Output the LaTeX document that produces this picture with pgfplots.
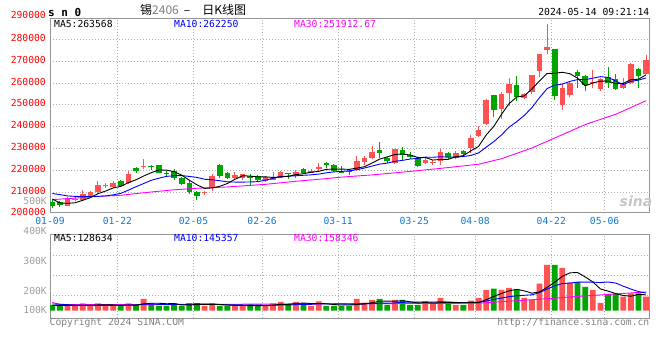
\documentclass[border=0pt]{standalone}
\usepackage{pgfplots}
\pgfplotsset{compat=1.18}
\usepackage{pgfplotstable}
\usepackage{fontspec}
\newfontfamily\mono{DejaVu Sans Mono}
\newfontfamily\cjk{Noto Sans CJK SC}
\newfontfamily\dvs{DejaVu Sans}
\definecolor{cred}{RGB}{255,82,82}
\definecolor{cgreen}{RGB}{0,165,0}
\definecolor{mablue}{RGB}{0,0,255}
\definecolor{mamag}{RGB}{255,0,255}
\definecolor{gridc}{RGB}{175,175,175}
\definecolor{framec}{RGB}{150,150,150}
\definecolor{datec}{RGB}{20,120,210}
\definecolor{txtgray}{RGB}{130,130,130}
\definecolor{volgray}{RGB}{160,160,160}
\newcommand\tf{\mono\fontsize{9.7bp}{11bp}\selectfont}

\pgfplotstableread{
i o h l c
2 203950 208000 203950 207300
3 206500 207800 206000 207000
4 206500 211000 206000 209500
5 208000 210800 207500 210000
6 210000 215100 209500 213300
7 213000 214500 211900 213300
8 212700 215100 211800 214200
10 214500 219700 214000 218500
12 221500 225100 220500 221800
20 209800 210600 208800 210200
21 212100 218200 210800 217400
24 216700 219400 215900 218100
25 216400 218600 215800 218200
28 215100 217400 214800 217000
29 215800 219400 215800 216700
30 216700 219900 216400 219400
32 217300 220300 216700 219400
34 219100 220600 218800 220000
35 220600 223300 219700 221500
40 220300 226600 219700 224350
41 224000 226600 222500 225850
42 225850 231100 225100 228400
45 223600 229900 223000 229750
49 223600 225850 222850 224650
50 223600 224800 222550 223900
51 224500 229750 222700 228400
53 225550 229000 225100 228100
55 230250 236400 228000 234850
56 235600 240200 235200 238400
57 241450 252900 241000 252450
59 248300 256100 243600 254750
60 255350 262500 249400 259350
62 253350 255500 252500 255200
63 255800 263600 255000 263450
64 265450 273100 262700 273100
65 275100 286900 273100 276450
67 249850 260100 247850 257500
68 254300 260850 253800 260100
71 260100 265750 257500 260400
72 257050 262400 256500 261950
75 257500 262100 257050 259650
76 260100 269100 259700 268800
78 264250 272650 263950 270350
}\redK

\pgfplotstableread{
i o h l c
0 205450 206500 202700 203950
1 205450 206200 203300 204250
9 215100 215700 212400 213000
11 221200 221800 219000 220000
13 222100 222700 220300 221800
14 222400 222700 218800 219100
15 218700 219700 217600 218300
16 220000 220600 215900 216400
17 216400 217100 213600 213900
18 214500 215000 209500 210300
19 210000 210600 206500 208500
22 222400 222900 216700 217600
23 218800 219400 216100 216700
26 217700 218200 213600 216800
27 217300 217900 214800 215500
31 218800 219100 216100 218200
33 220900 221200 218500 219100
36 223600 223900 221200 222700
37 222400 223000 219400 220000
38 219800 222100 218800 219100
39 219700 220900 218000 219400
43 229300 232900 225850 228100
44 225850 226300 223600 224500
46 229300 230800 224800 227050
47 226900 228400 225400 226150
48 225550 226000 221800 222250
52 227800 228250 225100 226300
54 228850 229300 226600 227500
58 254300 254450 244350 247850
61 258900 263000 252000 253500
66 275400 275600 252150 254000
69 265150 265900 257800 263000
70 263000 263600 256250 259000
73 262700 267300 257500 260100
74 261650 263950 256600 257050
77 266200 267000 257500 263000
}\greenK

\pgfplotstableread{
i ma5 ma10
0 207000 209500
1 205200 209000
2 205000 208400
3 205300 208200
4 206400 208100
5 207610 208100
6 209420 208200
7 210620 208400
8 212060 208900
9 212760 209580
10 214460 211035
11 215800 212610
12 217500 214060
13 219020 215540
14 220240 216500
15 220200 217330
16 219480 217640
17 217900 217700
18 215600 217310
19 213480 216860
20 211860 216030
21 212060 215770
22 212800 215350
23 214080 214840
24 216000 214740
25 217600 214730
26 217480 214770
27 217060 214930
28 217120 215600
29 216840 216420
30 217080 217340
31 217360 217420
32 218140 217600
33 218560 217840
34 219220 218030
35 219640 218360
36 220540 218950
37 220660 219400
38 220660 219610
39 220540 219880
40 221110 220375
41 221740 221140
42 223420 222040
43 225220 222940
44 226240 223390
45 227320 224215
46 227560 224650
47 227110 225265
48 225940 225580
49 225970 226105
50 224800 226060
51 225070 226315
52 225100 226105
53 226270 226105
54 226840 226405
55 229030 226915
56 231030 228050
57 236260 230680
58 240210 233240
59 245660 236250
60 250560 239795
61 253580 242305
62 254130 245195
63 257250 248730
64 260920 253290
65 264340 257450
66 264440 259010
67 264900 259515
68 264230 260740
69 262210 261565
70 258720 261530
71 260000 262220
72 260890 262895
73 260890 262560
74 259700 260955
75 259830 259275
76 261510 260755
77 261720 261305
78 263760 262325
}\maPrice

\pgfplotstableread{
i ma30
0 206700
3 207400
6 208200
9 208700
13 210200
16 211200
19 211900
23 212500
28 213700
32 215100
36 216300
38 217000
42 218000
47 219600
51 221000
55 222500
56 222900
59 225400
63 230300
67 236400
70 241000
74 245700
78 251900
}\maThirty

\pgfplotstableread{
i v
2 38
3 38
4 58
5 38
6 58
7 38
8 38
10 58
12 94
20 38
21 58
24 38
25 38
28 38
29 58
30 70
32 70
34 38
35 74
40 94
41 64
42 86
45 86
49 64
50 64
51 102
53 46
55 80
56 102
57 166
59 166
60 182
62 102
63 86
64 216
65 366
67 342
68 224
71 166
72 62
75 112
76 138
78 112
}\volRed

\pgfplotstableread{
i v
0 46
1 38
9 38
11 50
13 58
14 38
15 38
16 58
17 38
18 58
19 58
22 38
23 38
26 50
27 38
31 50
33 58
36 38
37 38
38 38
39 38
43 94
44 46
46 86
47 46
48 46
52 58
54 46
58 176
61 166
66 366
69 230
70 190
73 134
74 134
77 138
}\volGreen

\pgfplotstableread{
i ma5 ma10
0 44 54
1 42 52
2 42 48
3 42 44
4 43.6 42
5 42 42
6 46 42
7 46 42
8 46 42
9 42 42.8
10 46 44
11 44.4 45.2
12 55.6 50.8
13 59.6 52.8
14 59.6 50.8
15 55.6 50.8
16 57.2 50.8
17 46 50.8
18 46 52.8
19 50 54.8
20 50 52.8
21 50 53.6
22 50 48
23 46 46
24 42 46
25 42 46
26 40.4 45.2
27 40.4 45.2
28 40.4 43.2
29 44.4 43.2
30 50.8 46.4
31 50.8 45.6
32 57.2 48.8
33 61.2 50.8
34 57.2 50.8
35 58 54.4
36 55.6 53.2
37 49.2 53.2
38 45.2 53.2
39 45.2 51.2
40 49.2 53.6
41 54.4 55
42 64 56.6
43 75.2 60.2
44 76.8 61
45 75.2 62.2
46 79.6 67
47 71.6 67.8
48 62 68.6
49 65.6 71.2
50 61.2 68.2
51 64.4 72
52 66.8 69.2
53 66.8 64.4
54 63.2 64.4
55 66.4 63.8
56 66.4 65.4
57 88 77.4
58 114 90.4
59 138 100.6
60 158.4 112.4
61 171.2 118.8
62 158.4 123.2
63 140.4 127.2
64 150.4 144.2
65 187.2 172.8
66 227.2 199.2
67 275.2 216.8
68 302.8 221.6
69 305.6 228
70 270.4 228.8
71 230.4 228.8
72 174.4 224.8
73 156.4 229.6
74 137.2 221.4
75 121.6 196
76 116 173.2
77 131.2 152.8
78 126.8 141.6
}\volMA

\pgfplotstableread{
i ma30
0 66
1 50
12 48
25 52
37 56
50 58
56 60
58 68
61 80
64 92
66 100
68 110
70 118
72 126
74 134
76 142
78 150
}\volThirty

\pgfplotsset{
  chartbase/.style={
    scale only axis, anchor=south west, width=599.5bp,
    xmin=-0.3, xmax=78.45,
    xtick={-0.3,8.55,18.55,27.55,37.55,47.55,55.55,65.55,72.55},
    major tick length=0pt,
    scaled ticks=false,
    grid=major,
    grid style={gridc, dash pattern=on 1bp off 2bp, line width=0.8bp},
    axis line style={framec, line width=1bp},
  },
}

\begin{document}
\begin{tikzpicture}
\useasboundingbox (0,0) rectangle (660bp,360bp);
\fill[white] (0,0) rectangle (660bp,360bp);

% ---------------- price panel ----------------
\begin{axis}[chartbase,
  at={(50bp,147bp)}, height=194bp,
  ymin=200600, ymax=289250,
  xticklabels={01-09,01-22,02-05,02-26,03-11,03-25,04-08,04-22,05-06},
  ytick={210000,220000,230000,240000,250000,260000,270000,280000},
  yticklabels={210000,220000,230000,240000,250000,260000,270000,280000},
  xticklabel style={font=\tf, text=datec, inner sep=0pt, anchor=north, yshift=-4.5bp},
  yticklabel style={font=\tf, text=red, inner sep=0pt, anchor=east, xshift=-4bp, yshift=1.5bp},
]
% wicks
\addplot[draw=none, mark=none, forget plot,
  error bars/.cd, y dir=plus, y explicit, error mark=none,
  error bar style={draw=cred, line width=1bp}]
  table[x=i, y=l, y error expr=\thisrow{h}-\thisrow{l}] {\redK};
\addplot[draw=none, mark=none, forget plot,
  error bars/.cd, y dir=plus, y explicit, error mark=none,
  error bar style={draw=cgreen, line width=1bp}]
  table[x=i, y=l, y error expr=\thisrow{h}-\thisrow{l}] {\greenK};
% bodies
\addplot[draw=none, mark=none, forget plot,
  error bars/.cd, y dir=plus, y explicit, error mark=none,
  error bar style={draw=cred, line width=5.6bp}]
  table[x=i, y=o, y error expr={max(\thisrow{c}-\thisrow{o},400)}] {\redK};
\addplot[draw=none, mark=none, forget plot,
  error bars/.cd, y dir=plus, y explicit, error mark=none,
  error bar style={draw=cgreen, line width=5.6bp}]
  table[x=i, y=c, y error expr={max(\thisrow{o}-\thisrow{c},400)}] {\greenK};
% moving averages
\addplot[mamag, line width=0.9bp, mark=none] table[x=i, y=ma30] {\maThirty};
\addplot[mablue, line width=0.9bp, mark=none] table[x=i, y=ma10] {\maPrice};
\addplot[black, line width=0.9bp, mark=none] table[x=i, y=ma5] {\maPrice};
\end{axis}

% ---------------- volume panel ----------------
\begin{axis}[chartbase,
  at={(50bp,41.7bp)}, height=84bp,
  ymin=-60.8, ymax=611.2,
  xticklabels={}, ytick={120,283,446}, yticklabels={},
]
\addplot[ybar, bar width=5.8bp, bar shift=0pt, fill=cred, draw=none] table[x=i, y=v] {\volRed};
\addplot[ybar, bar width=5.8bp, bar shift=0pt, fill=cgreen, draw=none] table[x=i, y=v] {\volGreen};
\addplot[mamag, line width=0.9bp, mark=none] table[x=i, y=ma30] {\volThirty};
\addplot[mablue, line width=0.9bp, mark=none] table[x=i, y=ma10] {\volMA};
\addplot[black, line width=0.9bp, mark=none] table[x=i, y=ma5] {\volMA};
\end{axis}

% ---------------- texts ----------------
\node[anchor=west, inner sep=0pt] at (48bp,348bp) {\mono\bfseries\fontsize{11bp}{13bp}\selectfont s n 0};
\node[anchor=west, inner sep=0pt] at (140bp,350bp) {\cjk\fontsize{12bp}{14bp}\selectfont 锡{\color{gray}2406}\hspace{5bp}–\hspace{12bp}日K线图};
\node[anchor=east, inner sep=0pt] at (649.5bp,348.5bp) {\tf 2024-05-14 09:21:14};

\node[anchor=west, inner sep=0pt] at (54bp,336bp) {\tf MA5:263568};
\node[anchor=west, inner sep=0pt, text=mablue] at (174bp,336bp) {\tf MA10:262250};
\node[anchor=west, inner sep=0pt, text=mamag] at (294bp,336bp) {\tf MA30:251912.67};

\node[anchor=east, inner sep=0pt, text=red] at (46bp,345bp) {\tf 290000};
\node[anchor=east, inner sep=0pt, text=red] at (46bp,148.5bp) {\tf 200000};

\node[anchor=east, inner sep=0pt, text=volgray] at (47bp,159bp) {\tf 500K};
\node[anchor=east, inner sep=0pt, text=volgray] at (47bp,129bp) {\tf 400K};
\node[anchor=east, inner sep=0pt, text=volgray] at (47bp,99bp) {\tf 300K};
\node[anchor=east, inner sep=0pt, text=volgray] at (47bp,69.3bp) {\tf 200K};
\node[anchor=east, inner sep=0pt, text=volgray] at (47bp,50bp) {\tf 100K};

\node[anchor=west, inner sep=0pt] at (54bp,121.7bp) {\tf MA5:128634};
\node[anchor=west, inner sep=0pt, text=mablue] at (174bp,121.7bp) {\tf MA10:145357};
\node[anchor=west, inner sep=0pt, text=mamag] at (294bp,121.7bp) {\tf MA30:158346};

\node[anchor=west, inner sep=0pt, text=txtgray] at (49.5bp,37bp) {\tf Copyright 2024 SINA.COM};
\node[anchor=east, inner sep=0pt, text=txtgray] at (649.5bp,37bp) {\tf http://finance.sina.com.cn};

\node[inner sep=0pt, text=gray!45] at (636bp,159bp) {\dvs\bfseries\itshape\fontsize{14bp}{14bp}\selectfont sina};
\end{tikzpicture}
\end{document}
